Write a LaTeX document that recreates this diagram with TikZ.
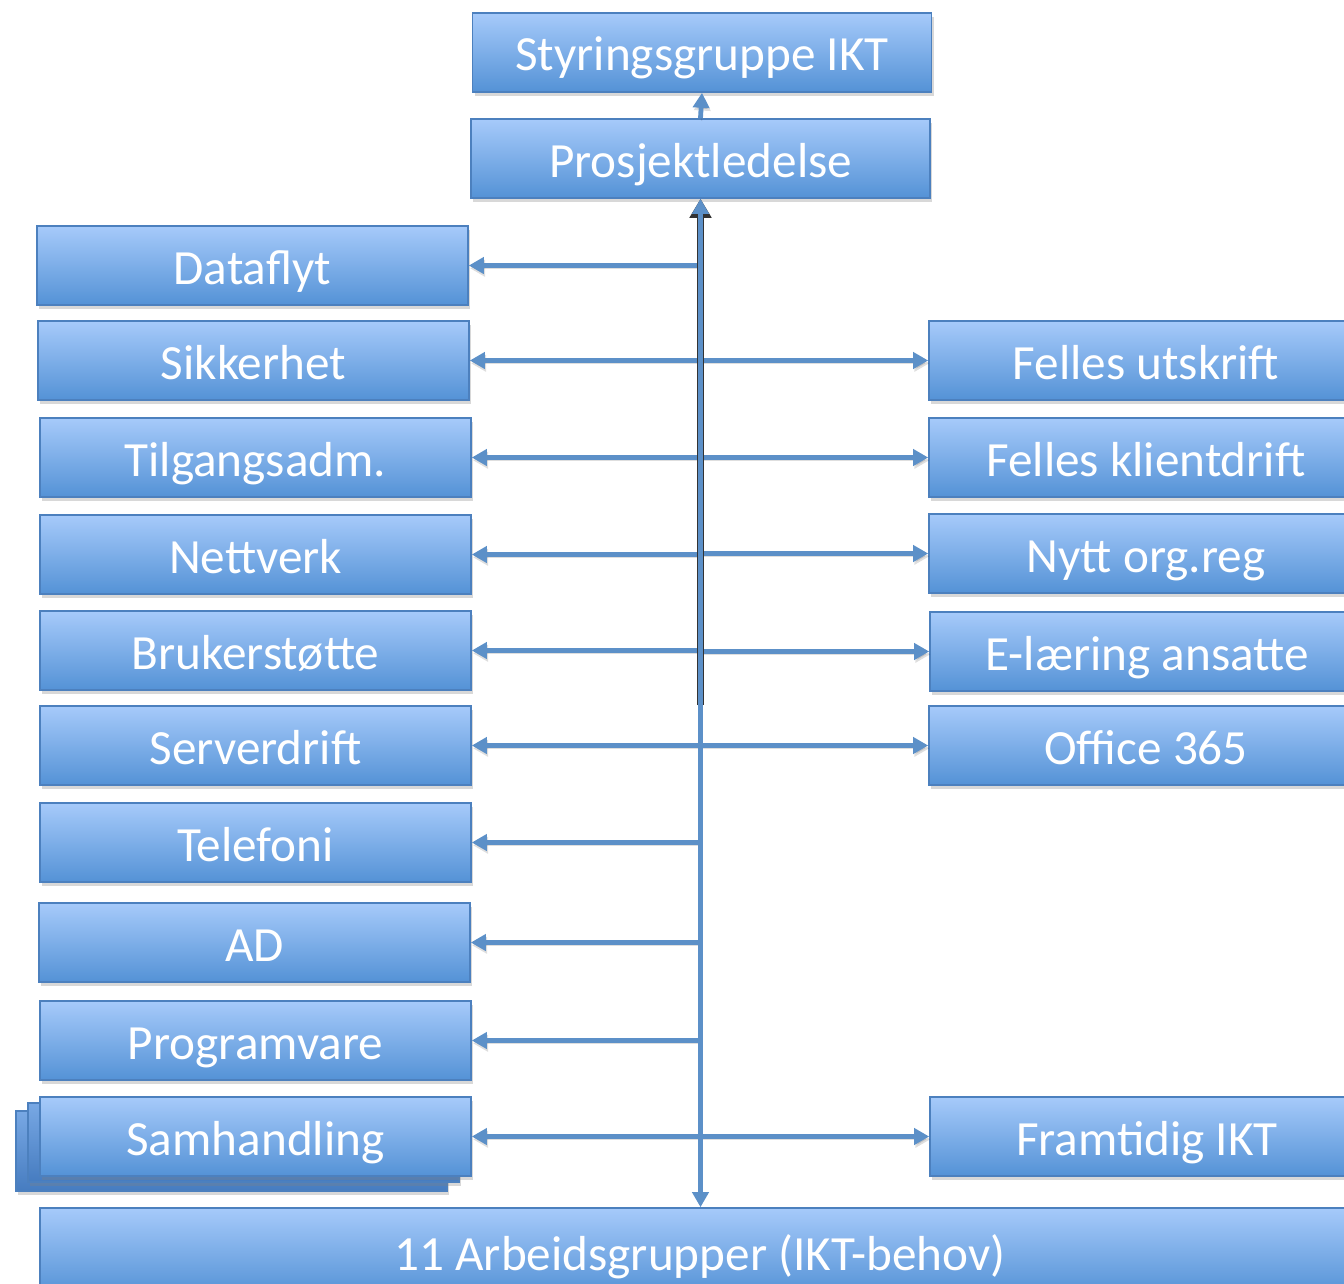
\documentclass[tikz,border=0pt]{standalone}
\usepackage{fontspec}
\setmainfont{Carlito}
\usetikzlibrary{shadows,arrows.meta}
\definecolor{boxtop}{RGB}{166,202,250}
\definecolor{boxbot}{RGB}{84,146,214}
\definecolor{boxline}{RGB}{76,128,190}
\definecolor{stacktop}{RGB}{120,168,228}
\definecolor{stackbot}{RGB}{70,124,192}
\definecolor{arrblue}{RGB}{92,144,200}
\tikzset{
  card/.style={draw=boxline, line width=0.8pt, top color=boxtop, bottom color=boxbot,
    minimum height=39.5pt, inner sep=0pt, text=white,
    font=\fontsize{24.6}{28}\selectfont, text height=18.5pt, text depth=0pt,
    drop shadow={shadow xshift=1.2pt, shadow yshift=-1.8pt, opacity=0.3}},
  lbox/.style={card, minimum width=215.5pt},
  rbox/.style={card, minimum width=217pt},
  tbox/.style={card, minimum width=229.5pt},
  stackbox/.style={draw=boxline, line width=0.8pt, top color=stacktop, bottom color=stackbot,
    drop shadow={shadow xshift=1.2pt, shadow yshift=-1.8pt, opacity=0.3}},
  arr/.style={draw=arrblue, line width=2.4pt, -{Triangle[length=7.5pt,width=8pt]},
    preaction={draw=black, opacity=0.13, transform canvas={shift={(0.6pt,-1.4pt)}}}},
}
\begin{document}
\begin{tikzpicture}[x=0.5pt,y=-0.5pt]
\useasboundingbox (0,0) rectangle (1344,1284);
\clip (0,0) rectangle (1344,1284);
\fill[white] (0,0) rectangle (1344,1284);

% top boxes
\node[tbox] (sg) at (702,52.5) {Styringsgruppe IKT};
\node[tbox] (pl) at (700.5,158.5) {Prosjektledelse};

% stacked backs of Samhandling
\draw[stackbox] (16,1111) rectangle (447,1191);
\draw[stackbox] (28,1103) rectangle (459,1182);

% left column
\node[lbox] (dat) at (252.5,265.5) {Dataflyt};
\node[lbox] (sik) at (253.5,360.5) {Sikkerhet};
\node[lbox] (til) at (255.5,457.5) {Tilgangsadm.};
\node[lbox] (net) at (255.5,554.5) {Nettverk};
\node[lbox] (bru) at (255.5,650.5) {Brukerstøtte};
\node[lbox] (ser) at (255.5,745.5) {Serverdrift};
\node[lbox] (tel) at (255.5,842.5) {Telefoni};
\node[lbox] (ad)  at (254.5,942.5) {AD};
\node[lbox] (pro) at (255.5,1040.5) {Programvare};
\node[lbox] (sam) at (255.5,1136.5) {Samhandling};

% right column
\node[rbox] (fu) at (1146,360.5) {Felles utskrift};
\node[rbox] (fk) at (1146,457.5) {Felles klientdrift};
\node[rbox] (no) at (1146,553.5) {Nytt org.reg};
\node[rbox] (el) at (1147,651.5) {E-læring ansatte};
\node[rbox] (of) at (1146,745.5) {Office 365};
\node[rbox] (fi) at (1147,1136.5) {Framtidig IKT};

% bottom
\node[card, minimum width=660pt, minimum height=43.5pt] (arb) at (700,1251.5) {11 Arbeidsgrupper (IKT-behov)};

% connectors
\draw[arr] (pl.north) -- (sg.south);

\foreach \n in {dat,sik,til,net,bru,ser,tel,ad,pro,sam}
  \draw[arr] (pl.south |- \n.east) -- (\n.east);
\foreach \n in {fu,fk,no,el,of,fi}
  \draw[arr] (pl.south |- \n.west) -- (\n.west);

\coordinate (blk) at (700.5,705);
\draw[black!80, line width=3.8pt, -{Triangle[length=9.5pt,width=10.5pt]}] (blk) -- (pl.south);
\draw[draw=arrblue, line width=2.4pt, {Triangle[length=7.5pt,width=8pt]}-{Triangle[length=7.5pt,width=8pt]}] (pl.south) -- (pl.south |- arb.north);
\end{tikzpicture}
\end{document}
